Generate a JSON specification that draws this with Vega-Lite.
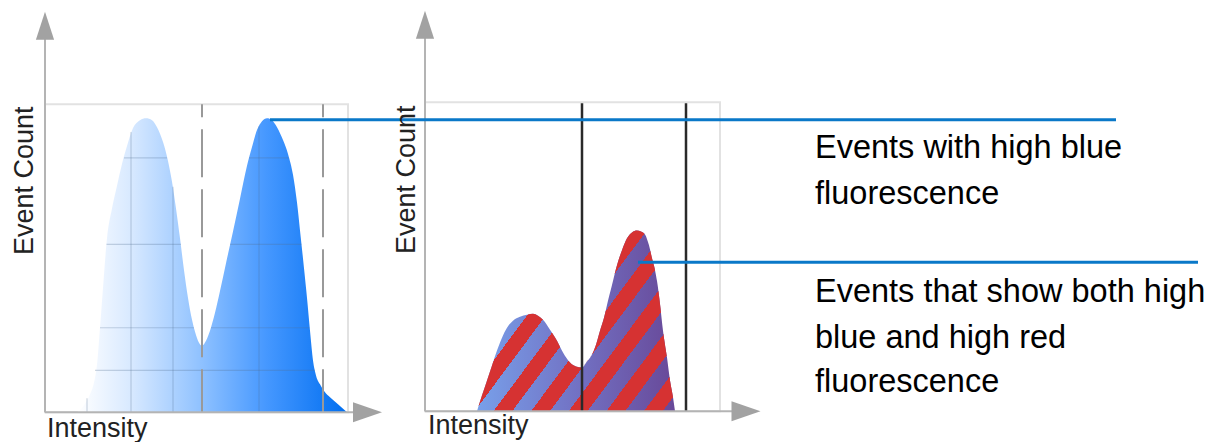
{
  "$schema": "https://vega.github.io/schema/vega-lite/v6.json",
  "width": 1212,
  "height": 442,
  "autosize": {"type": "fit", "contains": "padding"},
  "padding": 0,
  "background": "white",
  "config": {"view": {"stroke": null}},
  "datasets": {
    "frames": [
      {"x": 45, "y": 105, "x2": 348, "y2": 415},
      {"x": 425, "y": 103, "x2": 720, "y2": 414}
    ],
    "blueHist": [
      {"x": 77, "y": 415}, {"x": 84, "y": 408}, {"x": 90, "y": 397}, {"x": 94, "y": 385},
      {"x": 97, "y": 367}, {"x": 100, "y": 330}, {"x": 103, "y": 290}, {"x": 107, "y": 240},
      {"x": 112, "y": 210}, {"x": 117, "y": 187}, {"x": 122, "y": 165}, {"x": 127, "y": 147},
      {"x": 133, "y": 129}, {"x": 140, "y": 121}, {"x": 146, "y": 119}, {"x": 152, "y": 121},
      {"x": 157, "y": 128}, {"x": 163, "y": 143}, {"x": 168, "y": 162}, {"x": 172, "y": 183},
      {"x": 176, "y": 210}, {"x": 180, "y": 240}, {"x": 184, "y": 272}, {"x": 188, "y": 300},
      {"x": 192, "y": 322}, {"x": 195, "y": 334}, {"x": 199, "y": 345}, {"x": 202, "y": 348},
      {"x": 206, "y": 343}, {"x": 210, "y": 333}, {"x": 215, "y": 315}, {"x": 220, "y": 293},
      {"x": 226, "y": 265}, {"x": 233, "y": 233}, {"x": 240, "y": 200}, {"x": 247, "y": 167},
      {"x": 252, "y": 148}, {"x": 257, "y": 131}, {"x": 262, "y": 122}, {"x": 267, "y": 119},
      {"x": 272, "y": 121}, {"x": 277, "y": 128}, {"x": 283, "y": 141}, {"x": 288, "y": 155},
      {"x": 293, "y": 176}, {"x": 297, "y": 204}, {"x": 300, "y": 232}, {"x": 304, "y": 270},
      {"x": 307, "y": 300}, {"x": 310, "y": 333}, {"x": 313, "y": 363}, {"x": 316, "y": 378},
      {"x": 320, "y": 387}, {"x": 325, "y": 395}, {"x": 330, "y": 400}, {"x": 338, "y": 407},
      {"x": 347, "y": 415}
    ],
    "gridSegments": [
      {"x": 87, "y": 401, "x2": 87, "y2": 415},
      {"x": 131, "y": 133, "x2": 131, "y2": 415},
      {"x": 173, "y": 188, "x2": 173, "y2": 415},
      {"x": 259, "y": 127, "x2": 259, "y2": 415},
      {"x": 124, "y": 159, "x2": 167, "y2": 159},
      {"x": 249, "y": 159, "x2": 288.5, "y2": 159},
      {"x": 106.5, "y": 246, "x2": 181, "y2": 246},
      {"x": 230, "y": 246, "x2": 301.5, "y2": 246},
      {"x": 100, "y": 330, "x2": 194, "y2": 330},
      {"x": 211, "y": 330, "x2": 309.5, "y2": 330},
      {"x": 95, "y": 373, "x2": 315, "y2": 373}
    ],
    "dashedGates": [
      {"x": 202, "y": 105, "x2": 202, "y2": 415},
      {"x": 323, "y": 105, "x2": 323, "y2": 415}
    ],
    "overlapHist": [
      {"x": 477, "y": 414}, {"x": 482, "y": 398}, {"x": 487, "y": 383}, {"x": 492, "y": 368},
      {"x": 497, "y": 353}, {"x": 502, "y": 340}, {"x": 507, "y": 330}, {"x": 513, "y": 323},
      {"x": 520, "y": 319}, {"x": 527, "y": 317}, {"x": 533, "y": 316}, {"x": 538, "y": 318},
      {"x": 543, "y": 322}, {"x": 550, "y": 332}, {"x": 557, "y": 343}, {"x": 563, "y": 355},
      {"x": 570, "y": 365}, {"x": 576, "y": 369}, {"x": 582, "y": 370}, {"x": 587, "y": 364},
      {"x": 592, "y": 357}, {"x": 596, "y": 347}, {"x": 600, "y": 333}, {"x": 604, "y": 320},
      {"x": 607, "y": 307}, {"x": 612, "y": 287}, {"x": 617, "y": 267}, {"x": 622, "y": 252},
      {"x": 627, "y": 240}, {"x": 632, "y": 234}, {"x": 637, "y": 232}, {"x": 641, "y": 233},
      {"x": 645, "y": 236}, {"x": 649, "y": 247}, {"x": 652, "y": 260}, {"x": 655, "y": 272},
      {"x": 657, "y": 283}, {"x": 660, "y": 306}, {"x": 663, "y": 333}, {"x": 667, "y": 360},
      {"x": 670, "y": 383}, {"x": 673, "y": 400}, {"x": 675, "y": 414}
    ],
    "solidGates": [
      {"x": 582, "y": 104, "x2": 582, "y2": 414},
      {"x": 686, "y": 104, "x2": 686, "y2": 414}
    ],
    "axisLines": [
      {"x": 45, "y": 38, "x2": 45, "y2": 415},
      {"x": 45, "y": 415, "x2": 356, "y2": 415},
      {"x": 425, "y": 38, "x2": 425, "y2": 414},
      {"x": 425, "y": 414, "x2": 734, "y2": 414}
    ],
    "arrowsUp": [{"x": 45, "y": 26}, {"x": 425, "y": 25}],
    "arrowsRight": [{"x": 367.5, "y": 415}, {"x": 746, "y": 414}],
    "leaders": [
      {"x": 270, "y": 120.5, "x2": 1116, "y2": 120.5},
      {"x": 638, "y": 264, "x2": 1198, "y2": 264}
    ],
    "yTitles": [
      {"x": 33, "y": 182, "label": "Event Count"},
      {"x": 415, "y": 181, "label": "Event Count"}
    ],
    "xTitles": [
      {"x": 47, "y": 440, "label": "Intensity"},
      {"x": 428, "y": 437, "label": "Intensity"}
    ],
    "notes": [
      {"x": 815, "y": 159, "label": "Events with high blue"},
      {"x": 815, "y": 205, "label": "fluorescence"},
      {"x": 815, "y": 304, "label": "Events that show both high"},
      {"x": 815, "y": 350, "label": "blue and high red"},
      {"x": 815, "y": 395, "label": "fluorescence"}
    ]
  },
  "encoding": {
    "x": {"field": "x", "type": "quantitative", "scale": {"domain": [0, 1212], "nice": false, "zero": false}, "axis": null},
    "y": {"field": "y", "type": "quantitative", "scale": {"domain": [0, 442], "nice": false, "zero": false, "reverse": true}, "axis": null}
  },
  "layer": [
    {
      "data": {"name": "frames"},
      "mark": {"type": "rect", "filled": false, "color": "#E2E2E2", "strokeWidth": 2},
      "encoding": {"x2": {"field": "x2"}, "y2": {"field": "y2"}}
    },
    {
      "data": {"name": "blueHist"},
      "mark": {
        "type": "area",
        "interpolate": "monotone",
        "fill": {
          "gradient": "linear", "x1": 0, "y1": 0, "x2": 1, "y2": 0,
          "stops": [
            {"offset": 0, "color": "#FFFFFF"},
            {"offset": 0.2, "color": "#D8E9FF"},
            {"offset": 0.45, "color": "#92C3FF"},
            {"offset": 0.7, "color": "#4698FF"},
            {"offset": 1, "color": "#006EF0"}
          ]
        }
      },
      "encoding": {"y2": {"datum": 415}}
    },
    {
      "data": {"name": "gridSegments"},
      "mark": {"type": "rule", "color": "#54708F", "opacity": 0.28, "strokeWidth": 1.2},
      "encoding": {"x2": {"field": "x2"}, "y2": {"field": "y2"}}
    },
    {
      "data": {"name": "dashedGates"},
      "mark": {"type": "rule", "color": "#999999", "strokeWidth": 2, "strokeDash": [48, 12], "strokeDashOffset": 35},
      "encoding": {"x2": {"field": "x2"}, "y2": {"field": "y2"}}
    },
    {
      "data": {"name": "overlapHist"},
      "mark": {
        "type": "area",
        "interpolate": "monotone",
        "fill": {
          "gradient": "linear", "x1": 0, "y1": 0, "x2": 1, "y2": 0,
          "stops": [
            {"offset": 0, "color": "#78A0EA"},
            {"offset": 0.5, "color": "#7272C4"},
            {"offset": 1, "color": "#684898"}
          ]
        }
      },
      "encoding": {"y2": {"datum": 414}}
    },
    {
      "data": {"name": "overlapHist"},
      "mark": {
        "type": "area",
        "interpolate": "monotone",
        "fill": {
          "gradient": "linear", "x1": 0, "y1": 0, "x2": 1.149, "y2": 0.781,
          "stops": [
            {"offset": 0, "color": "rgba(214,48,48,0)"},
            {"offset": 0.0017, "color": "rgba(214,48,48,0)"}, {"offset": 0.0017, "color": "#D63232"},
            {"offset": 0.0582, "color": "#D63232"}, {"offset": 0.0582, "color": "rgba(214,48,48,0)"},
            {"offset": 0.1148, "color": "rgba(214,48,48,0)"}, {"offset": 0.1148, "color": "#D63232"},
            {"offset": 0.1713, "color": "#D63232"}, {"offset": 0.1713, "color": "rgba(214,48,48,0)"},
            {"offset": 0.2279, "color": "rgba(214,48,48,0)"}, {"offset": 0.2279, "color": "#D63232"},
            {"offset": 0.2844, "color": "#D63232"}, {"offset": 0.2844, "color": "rgba(214,48,48,0)"},
            {"offset": 0.3410, "color": "rgba(214,48,48,0)"}, {"offset": 0.3410, "color": "#D63232"},
            {"offset": 0.3975, "color": "#D63232"}, {"offset": 0.3975, "color": "rgba(214,48,48,0)"},
            {"offset": 0.4541, "color": "rgba(214,48,48,0)"}, {"offset": 0.4541, "color": "#D63232"},
            {"offset": 0.5106, "color": "#D63232"}, {"offset": 0.5106, "color": "rgba(214,48,48,0)"},
            {"offset": 0.5672, "color": "rgba(214,48,48,0)"}, {"offset": 0.5672, "color": "#D63232"},
            {"offset": 0.6237, "color": "#D63232"}, {"offset": 0.6237, "color": "rgba(214,48,48,0)"},
            {"offset": 0.6803, "color": "rgba(214,48,48,0)"}, {"offset": 0.6803, "color": "#D63232"},
            {"offset": 0.7368, "color": "#D63232"}, {"offset": 0.7368, "color": "rgba(214,48,48,0)"},
            {"offset": 0.7934, "color": "rgba(214,48,48,0)"}, {"offset": 0.7934, "color": "#D63232"},
            {"offset": 0.8499, "color": "#D63232"}, {"offset": 0.8499, "color": "rgba(214,48,48,0)"},
            {"offset": 0.9065, "color": "rgba(214,48,48,0)"}, {"offset": 0.9065, "color": "#D63232"},
            {"offset": 0.9630, "color": "#D63232"}, {"offset": 0.9630, "color": "rgba(214,48,48,0)"},
            {"offset": 1, "color": "rgba(214,48,48,0)"}
          ]
        }
      },
      "encoding": {"y2": {"datum": 414}}
    },
    {
      "data": {"name": "solidGates"},
      "mark": {"type": "rule", "color": "#2A2A2A", "strokeWidth": 2.5},
      "encoding": {"x2": {"field": "x2"}, "y2": {"field": "y2"}}
    },
    {
      "data": {"name": "axisLines"},
      "mark": {"type": "rule", "color": "#B4B4B4", "strokeWidth": 2},
      "encoding": {"x2": {"field": "x2"}, "y2": {"field": "y2"}}
    },
    {
      "data": {"name": "arrowsUp"},
      "mark": {"type": "point", "shape": "M0,-1L0.65,1L-0.65,1Z", "size": 784, "filled": true, "color": "#A2A2A2", "opacity": 1}
    },
    {
      "data": {"name": "arrowsRight"},
      "mark": {"type": "point", "shape": "M1,0L-1,-0.69L-1,0.69Z", "size": 841, "filled": true, "color": "#A2A2A2", "opacity": 1}
    },
    {
      "data": {"name": "leaders"},
      "mark": {"type": "rule", "color": "#0A78C8", "strokeWidth": 3},
      "encoding": {"x2": {"field": "x2"}, "y2": {"field": "y2"}}
    },
    {
      "data": {"name": "yTitles"},
      "mark": {"type": "text", "font": "Liberation Sans", "fontSize": 27, "angle": 270, "align": "center", "baseline": "alphabetic", "color": "#222222"},
      "encoding": {"text": {"field": "label"}}
    },
    {
      "data": {"name": "xTitles"},
      "mark": {"type": "text", "font": "Liberation Sans", "fontSize": 27, "align": "left", "baseline": "alphabetic", "color": "#222222"},
      "encoding": {"text": {"field": "label"}}
    },
    {
      "data": {"name": "notes"},
      "mark": {"type": "text", "font": "Liberation Sans", "fontSize": 32.5, "align": "left", "baseline": "alphabetic", "color": "#000000"},
      "encoding": {"text": {"field": "label"}}
    }
  ]
}
